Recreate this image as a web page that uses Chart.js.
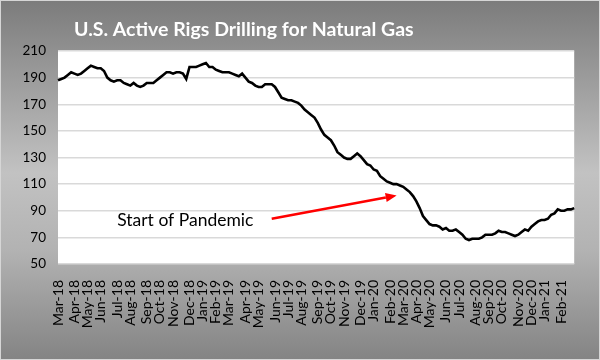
<!DOCTYPE html>
<html>
<head>
<meta charset="utf-8">
<script src="https://cdn.jsdelivr.net/npm/chart.js@4"></script>
<style>
  html, body { margin: 0; padding: 0; }
  #wrap {
    width: 600px; height: 360px; box-sizing: border-box;
    border: 1px solid #d6d6d6;
    background: linear-gradient(to bottom, #7c7c7c 0%, #c2c2c2 48%, #b2b2b2 70%, #848484 100%);
  }
  canvas { display: block; }
</style>
</head>
<body>
<div id="wrap"><canvas id="myChart" width="598" height="358"></canvas></div>
<script>
// rotulos do eixo x (um por mes)
const monthLabels = [
  "Mar-18", "Apr-18", "May-18", "Jun-18", "Jul-18", "Aug-18", "Sep-18", "Oct-18", "Nov-18", "Dec-18",
  "Jan-19", "Feb-19", "Mar-19", "Apr-19", "May-19", "Jun-19", "Jul-19", "Aug-19", "Sep-19", "Oct-19",
  "Nov-19", "Dec-19", "Jan-20", "Feb-20", "Mar-20", "Apr-20", "May-20", "Jun-20", "Jul-20", "Aug-20",
  "Sep-20", "Oct-20", "Nov-20", "Dec-20", "Jan-21", "Feb-21",
];

// primeira semana da serie (sexta-feira)
const firstWeek = [2018, 2, 2];

// sondas ativas de gas natural, uma por semana
const gasRigs = [
  188, 189, 190, 192, 194, 193, 192, 193, 195, 197, 199, 198, 197, 197, 195, 190,
  188, 187, 188, 188, 186, 185, 184, 186, 184, 183, 184, 186, 186, 186, 188, 190,
  192, 194, 194, 193, 194, 194, 193, 189, 198, 198, 198, 199, 200, 201, 198, 198,
  196, 195, 194, 194, 194, 193, 192, 191, 193, 190, 187, 186, 184, 183, 183, 185,
  185, 185, 183, 179, 175, 174, 173, 173, 172, 171, 169, 166, 164, 162, 160, 156,
  151, 147, 145, 143, 139, 134, 132, 130, 129, 129, 131, 133, 131, 128, 125, 124,
  121, 120, 116, 114, 112, 111, 110, 110, 109, 108, 106, 104, 101, 97, 92, 86,
  83, 80, 79, 79, 78, 76, 77, 75, 75, 76, 74, 72, 69, 68, 69, 69,
  69, 70, 72, 72, 72, 73, 75, 74, 74, 73, 72, 71, 72, 74, 76, 75,
  78, 80, 82, 83, 83, 84, 87, 88, 91, 90, 90, 91, 91, 92,
];

const yTicks = [50, 70, 90, 110, 130, 150, 170, 190, 210];

// nota: posicoes em unidades do grafico (semana, valor)
const notaPandemia = {
  texto: "Start of Pandemic",
  textoEm: [18, 83],
  setaDe: [65, 84],
  setaAte: [103, 101.5],
};

const weekDates = gasRigs.map((v, i) => new Date(firstWeek[0], firstWeek[1], firstWeek[2] + 7 * i));
const weekLabels = weekDates.map((d) => d.toISOString().slice(0, 10));

function rotuloMes(idx) {
  const d = weekDates[idx];
  if (idx > 0 && weekDates[idx - 1].getMonth() === d.getMonth()) return "";
  const m = (d.getFullYear() - 2018) * 12 + d.getMonth() - 2;
  return monthLabels[m] || "";
}

// fundo branco da area do grafico
const fundoPlot = {
  id: "fundoPlot",
  beforeDraw(chart) {
    const { ctx, chartArea: a } = chart;
    ctx.save();
    ctx.fillStyle = "#ffffff";
    ctx.fillRect(a.left, a.top, a.right - a.left, a.bottom - a.top);
    ctx.restore();
  },
};

// titulo e nota com seta
const extras = {
  id: "extras",
  afterDraw(chart) {
    const { ctx } = chart;
    const x = chart.scales.x;
    const y = chart.scales.y;
    ctx.save();
    ctx.fillStyle = "#ffffff";
    ctx.font = "bold 19.5px Lato";
    ctx.textBaseline = "alphabetic";
    ctx.fillText("U.S. Active Rigs Drilling for Natural Gas", 73, 35);

    ctx.fillStyle = "#000000";
    ctx.font = "17.5px Lato";
    ctx.textBaseline = "middle";
    ctx.fillText(notaPandemia.texto, x.getPixelForValue(notaPandemia.textoEm[0]), y.getPixelForValue(notaPandemia.textoEm[1]));

    const x1 = x.getPixelForValue(notaPandemia.setaDe[0]);
    const y1 = y.getPixelForValue(notaPandemia.setaDe[1]);
    const x2 = x.getPixelForValue(notaPandemia.setaAte[0]);
    const y2 = y.getPixelForValue(notaPandemia.setaAte[1]);
    const ang = Math.atan2(y2 - y1, x2 - x1);
    const cab = 11;
    ctx.strokeStyle = "#ff0000";
    ctx.fillStyle = "#ff0000";
    ctx.lineWidth = 2.5;
    ctx.beginPath();
    ctx.moveTo(x1, y1);
    ctx.lineTo(x2 - cab * Math.cos(ang), y2 - cab * Math.sin(ang));
    ctx.stroke();
    ctx.beginPath();
    ctx.moveTo(x2, y2);
    ctx.lineTo(x2 - cab * Math.cos(ang) + 4.5 * Math.sin(ang), y2 - cab * Math.sin(ang) - 4.5 * Math.cos(ang));
    ctx.lineTo(x2 - cab * Math.cos(ang) - 4.5 * Math.sin(ang), y2 - cab * Math.sin(ang) + 4.5 * Math.cos(ang));
    ctx.closePath();
    ctx.fill();
    ctx.restore();
  },
};

const config = {
  type: "line",
  data: {
    labels: weekLabels,
    datasets: [{
      label: "Gas rigs",
      data: gasRigs,
      borderColor: "#000000",
      borderWidth: 2.6,
      pointRadius: 0,
      tension: 0,
      fill: false,
    }],
  },
  options: {
    responsive: false,
    animation: false,
    layout: { padding: { left: 0, top: 50, right: 21, bottom: 0 } },
    plugins: {
      legend: { display: false },
      tooltip: { enabled: false },
    },
    scales: {
      x: {
        offset: false,
        grid: { display: false },
        border: { display: false },
        afterFit: (s) => { s.height = 95; },
        ticks: {
          autoSkip: false,
          minRotation: 90,
          maxRotation: 90,
          padding: 8,
          color: "#000000",
          font: { family: "Lato", size: 14 },
          callback: (v, idx) => rotuloMes(idx),
        },
      },
      y: {
        min: 50,
        max: 210,
        afterFit: (s) => { s.width = 57; },
        afterBuildTicks: (s) => { s.ticks = yTicks.map((v) => ({ value: v })); },
        grid: { color: "#d9d9d9", lineWidth: 1.5, drawTicks: false },
        border: { display: false },
        ticks: {
          padding: 12,
          color: "#000000",
          font: { family: "Lato", size: 13.5 },
        },
      },
    },
  },
  plugins: [fundoPlot, extras],
};

new Chart(document.getElementById("myChart"), config);
</script>
</body>
</html>
